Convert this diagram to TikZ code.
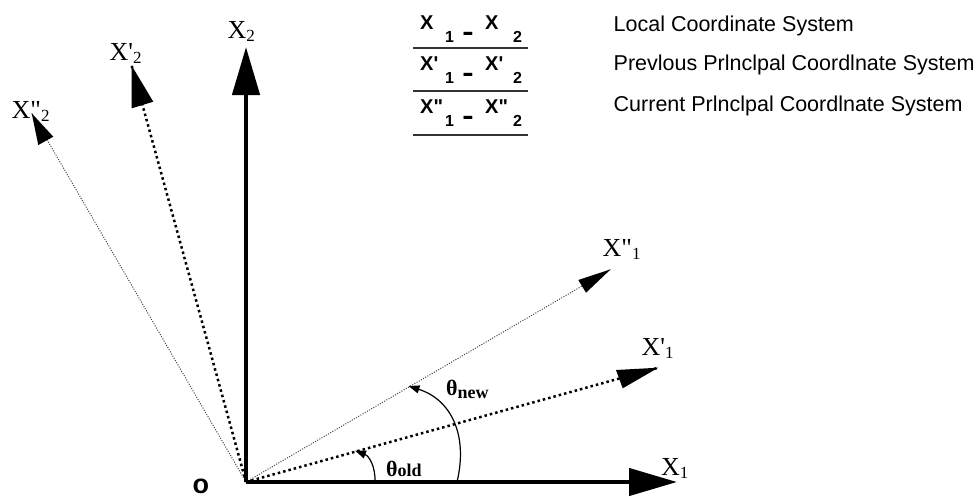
\documentclass[tikz,border=0pt]{standalone}
\usepackage{fontspec}
\usepackage{graphicx}
\usetikzlibrary{arrows.meta}
\newfontfamily\lsans[Ligatures=TeXOff]{Liberation Sans}
\newfontfamily\lserif[Ligatures=TeXOff]{Liberation Serif}
\newcommand{\legsub}{\fontsize{16}{16}\selectfont}
\newcommand{\legrow}[2]{\makebox[25pt][l]{#1}\raisebox{-13pt}{\legsub\makebox[18pt][l]{1}\makebox[22pt][l]{\scalebox{1.1}[2]{–}}}\makebox[28pt][l]{#2}\raisebox{-13pt}{\legsub 2}}
\newcommand{\axlab}[2]{#1\raisebox{-3pt}{\fontsize{17}{17}\selectfont #2}}
\begin{document}
\begin{tikzpicture}[x=1pt,y=-1pt,
  axis/.style={line width=4.5pt, -{Triangle[length=48pt,width=27pt]}},
  prevax/.style={line width=2.5pt, dash pattern=on 2.5pt off 3pt},
  curax/.style={line width=1pt, black!75, dash pattern=on 1pt off 1.5pt},
  anglearc/.style={line width=1.2pt, -{Triangle[length=11pt,width=8pt]}},
  axlabel/.style={inner sep=0pt, anchor=base west, font=\lserif\fontsize{26}{26}\selectfont},
  thlabel/.style={inner sep=0pt, anchor=base west, font=\lserif\bfseries\fontsize{22}{22}\selectfont},
  legtext/.style={inner sep=0pt, anchor=base west, font=\lsans\bfseries\fontsize{20}{20}\selectfont},
  legname/.style={inner sep=0pt, anchor=base west, font=\lsans\fontsize{21.5}{21.5}\selectfont},
  legline/.style={line width=2pt, black!80}]
\fill[white] (0,0) rectangle (980,498);
\useasboundingbox (0,0) rectangle (980,498);

% coordinates
\coordinate (O) at (246,482);
\coordinate (x1) at (677,482);
\coordinate (x2) at (246,47);
\coordinate (p1) at (658.3,367.7);
\coordinate (p2) at (131.7,65.7);
\coordinate (c1) at (610.7,269.3);
\coordinate (c2) at (31.7,113.3);

% current principal (thin dotted)
\draw[curax] (O) -- (c1);
\draw[curax] (O) -- (c2);
\fill[black] (c1) -- ++(-32.4,10.7) -- ++(7.7,12.7) -- cycle;
\fill[black] (c2) -- ++(6.6,31.7) -- ++(15,-8.3) -- cycle;

% previous principal (bold dotted)
\draw[prevax] (O) -- (p1);
\draw[prevax] (O) -- (p2);
\fill[black] (p1) -- ++(-42.3,2.3) -- ++(6.7,18.3) -- cycle;
\fill[black] (p2) -- ++(0,42.6) -- ++(21.6,-6.6) -- cycle;

% local axes
\draw[axis] (O) -- (x1);
\draw[axis] (O) -- (x2);

% angle arcs
\draw[anglearc] (375,482) .. controls (375.5,466) and (369,456) .. (355,450.5);
\draw[anglearc] (457,482) .. controls (468,436) and (452,400) .. (408.5,386);

% axis labels
\node[axlabel] (lx1) at (661,475) {\axlab{X}{1}};
\node[axlabel] (lx2) at (227.5,38.3) {\axlab{X}{2}};
\node[axlabel] (lp1) at (641.5,355) {\axlab{X'}{1}};
\node[axlabel] (lp2) at (109.5,60) {\axlab{X'}{2}};
\node[axlabel] (lc1) at (602.5,256.7) {\axlab{X"}{1}};
\node[axlabel] (lc2) at (11.5,118.3) {\axlab{X"}{2}};

% angle labels
\node[thlabel] (thold) at (386,476.7) {θ{\fontsize{18}{18}\selectfont old}};
\node[thlabel] (thnew) at (446,395) {θ\raisebox{-3pt}{\fontsize{18}{18}\selectfont new}};

% origin
\node[inner sep=0pt, font=\lsans\bfseries\fontsize{27}{27}\selectfont] (olab) at (200.8,486.7) {o};

% legend
\node[legtext] (leg1) at (420,29.3) {\legrow{X}{X}};
\node[legtext] (leg2) at (420,70) {\legrow{X'}{X'}};
\node[legtext] (leg3) at (420,113.3) {\legrow{X"}{X"}};
\draw[legline] (413,48.3) -- (528,48.3);
\draw[legline] (413,90.7) -- (528,90.7);
\draw[legline] (413,135) -- (528,135);
\node[legname] (name1) at (613.5,31.7) {Local Coordinate System};
\node[legname] (name2) at (613.5,70) {Prevlous Prlnclpal Coordlnate System};
\node[legname] (name3) at (613.5,111.7) {Current Prlnclpal Coordlnate System};
\end{tikzpicture}
\end{document}
